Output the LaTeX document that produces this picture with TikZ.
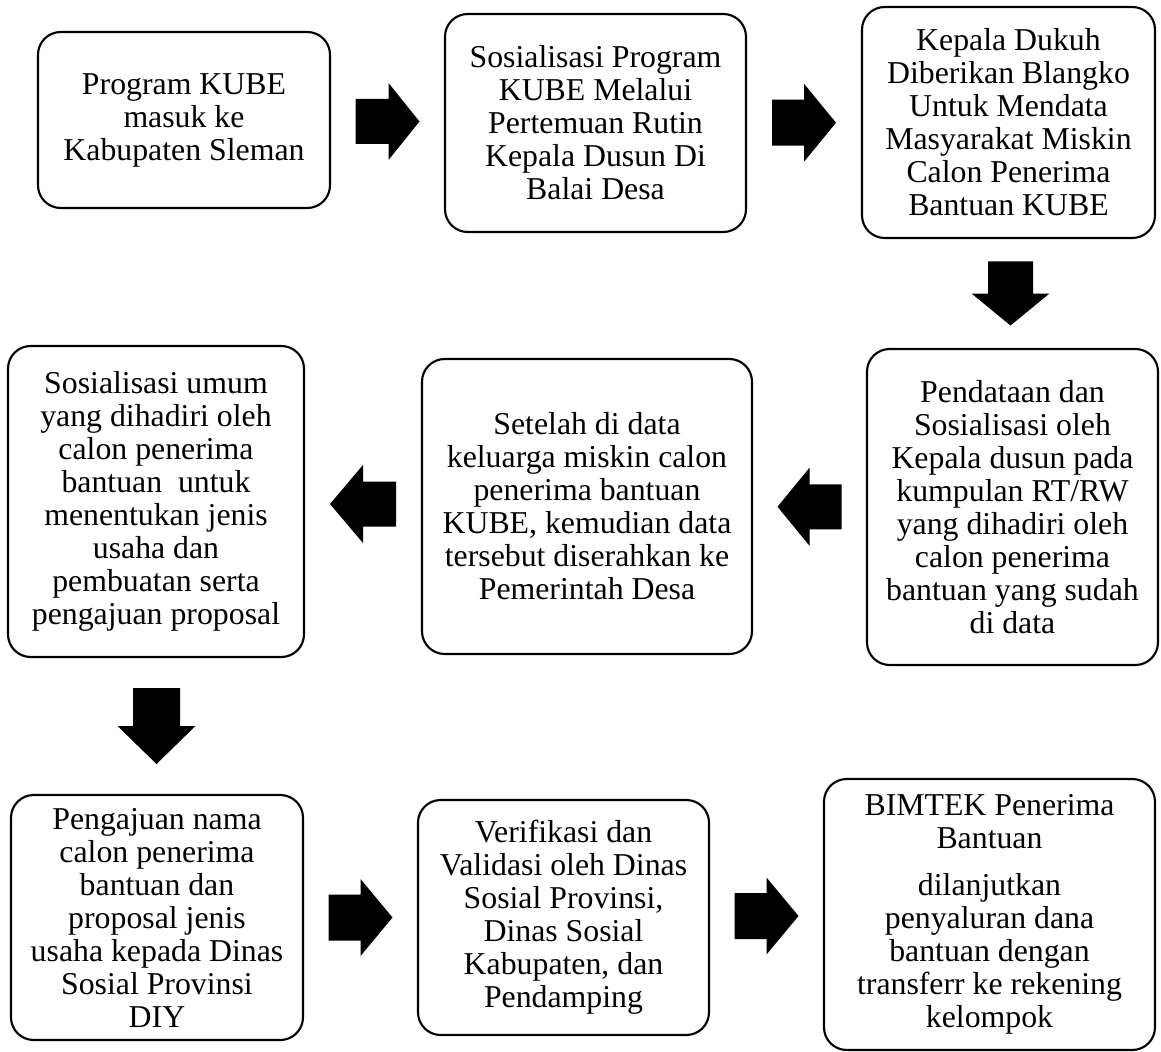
\documentclass[tikz,border=0pt]{standalone}
\usepackage{fontspec}
\setmainfont{Liberation Serif}
\usetikzlibrary{calc}
\tikzset{
  box/.style={draw, line width=1.6pt, rounded corners=17pt, align=center,
    inner sep=0pt, font=\fontsize{23.85pt}{24.75pt}\selectfont},
  blockarrow/.style={fill=black, draw=none},
}
\newcommand\flowbox[6]{\node[box, minimum width={(#4-#2)*0.75pt},
  minimum height={(#5-#3)*0.75pt}] (#1) at ({(#2+#4)/2},{(#3+#5)/2}) {#6};}
% #1 centre coordinate, #2 rotation, #3 half length, #4 head length, #5 half body, #6 half head
\newcommand\barrow[6]{\fill[blockarrow, shift={(#1)}, rotate=#2]
  (-#3,-#5) -- ({#3-#4},-#5) -- ({#3-#4},-#6) -- (#3,0) -- ({#3-#4},#6)
  -- ({#3-#4},#5) -- (-#3,#5) -- cycle;}
\begin{document}
\begin{tikzpicture}[x=0.75pt,y=-0.75pt]
\useasboundingbox (0,0) rectangle (1161,1052);
\flowbox{a}{38}{32}{330}{208}{Program KUBE\\masuk ke\\Kabupaten Sleman}
\flowbox{b}{445}{14}{746}{232}{Sosialisasi Program\\KUBE Melalui\\Pertemuan Rutin\\Kepala Dusun Di\\Balai Desa}
\flowbox{c}{862}{7}{1155}{238}{Kepala Dukuh\\Diberikan Blangko\\Untuk Mendata\\Masyarakat Miskin\\Calon Penerima\\Bantuan KUBE}
\flowbox{d}{867}{349}{1158}{665}{Pendataan dan\\Sosialisasi oleh\\Kepala dusun pada\\kumpulan RT/RW\\yang dihadiri oleh\\calon penerima\\bantuan yang sudah\\di data}
\flowbox{e}{422}{359}{752}{654}{Setelah di data\\keluarga miskin calon\\penerima bantuan\\KUBE, kemudian data\\tersebut diserahkan ke\\Pemerintah Desa}
\flowbox{f}{8}{346}{304}{657}{Sosialisasi umum\\yang dihadiri oleh\\calon penerima\\bantuan~ untuk\\menentukan jenis\\usaha dan\\pembuatan serta\\pengajuan proposal}
\flowbox{g}{11}{795}{303}{1040}{Pengajuan nama\\calon penerima\\bantuan dan\\proposal jenis\\usaha kepada Dinas\\Sosial Provinsi\\DIY}
\flowbox{h}{418}{800}{709}{1035}{Verifikasi dan\\Validasi oleh Dinas\\Sosial Provinsi,\\Dinas Sosial\\Kabupaten, dan\\Pendamping}
\flowbox{i}{824}{779}{1155}{1050}{BIMTEK Penerima\\Bantuan\\[10.5pt]dilanjutkan\\penyaluran dana\\bantuan dengan\\transferr ke rekening\\kelompok}
% connectors: block arrows centred between the named boxes
\coordinate (mab) at ($(a.east)!.5!(b.west)$);
\coordinate (mbc) at ($(b.east)!.5!(c.west)$);
\coordinate (mcd) at ($(c.south)!.5!(d.north)$);
\coordinate (mde) at ($(d.west)!.5!(e.east)$);
\coordinate (mef) at ($(e.west)!.5!(f.east)$);
\coordinate (mfg) at ($(f.south)!.5!(g.north)$);
\coordinate (mgh) at ($(g.east)!.5!(h.west)$);
\coordinate (mhi) at ($(h.east)!.5!(i.west)$);
\barrow{mab}{0}{32}{31}{22.5}{38.5}
\barrow{mbc}{0}{32}{32}{23}{39}
\barrow{mcd}{-90}{32}{32}{22.5}{39}
\barrow{mde}{180}{32}{32}{22.5}{39}
\barrow{mef}{180}{33}{33}{22.5}{39}
\barrow{mfg}{-90}{38}{38}{23.5}{39}
\barrow{mgh}{0}{32}{32}{23}{38.5}
\barrow{mhi}{0}{32}{32}{23}{38.5}
\end{tikzpicture}
\end{document}
